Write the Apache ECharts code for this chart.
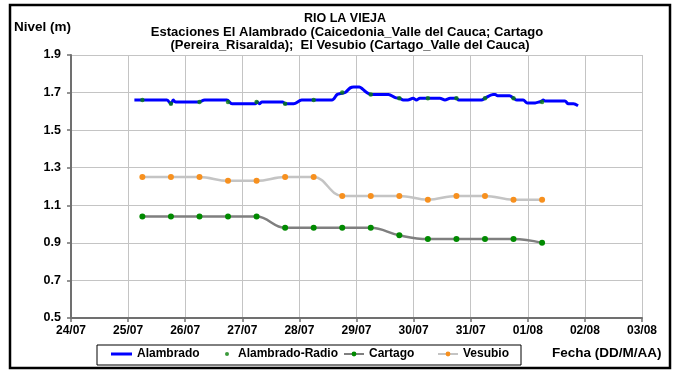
<!DOCTYPE html>
<html>
<head>
<meta charset="utf-8">
<script src="https://cdn.jsdelivr.net/npm/echarts@6/dist/echarts.min.js"></script>
<style>
  html, body { margin: 0; padding: 0; background: #fff; }
  #chart { width: 677px; height: 372px; }
</style>
</head>
<body>
<div id="chart"></div>
<script>
// Day labels on the horizontal axis (day 0 = 24/07)
const dayLabels = ['24/07', '25/07', '26/07', '27/07', '28/07', '29/07', '30/07', '31/07', '01/08', '02/08', '03/08'];

// Manual readings, taken at 06:00 and 18:00 (days after 24/07 00:00)
const readingDays = [1.25, 1.75, 2.25, 2.75, 3.25, 3.75, 4.25, 4.75, 5.25, 5.75, 6.25, 6.75, 7.25, 7.75, 8.25];
const vesubio = [1.25, 1.25, 1.25, 1.23, 1.23, 1.25, 1.25, 1.15, 1.15, 1.15, 1.13, 1.15, 1.15, 1.13, 1.13];
const cartago = [1.04, 1.04, 1.04, 1.04, 1.04, 0.98, 0.98, 0.98, 0.98, 0.94, 0.92, 0.92, 0.92, 0.92, 0.90];
const alambradoRadio = [1.66, 1.64, 1.65, 1.65, 1.65, 1.64, 1.66, 1.70, 1.69, 1.67, 1.67, 1.67, 1.67, 1.67, 1.65];

// Automatic station El Alambrado (continuous record)
const alambradoDays = [1.11, 1.68, 1.75, 1.79, 1.83, 2.23, 2.34, 2.73, 2.82, 3.23, 3.26, 3.30, 3.34, 3.71, 3.75, 3.90,
  4.04, 4.57, 4.66, 4.72, 4.80, 4.89, 4.95, 5.05, 5.10, 5.18, 5.25, 5.56, 5.68, 5.75, 5.82, 5.90, 5.99,
  6.05, 6.11, 6.46, 6.55, 6.64, 6.75, 6.79, 7.19, 7.25, 7.39, 7.43, 7.47, 7.68, 7.75, 7.81, 7.92, 7.99,
  8.13, 8.20, 8.24, 8.27, 8.30, 8.65, 8.71, 8.80, 8.88];
const alambrado = [1.66, 1.66, 1.64, 1.66, 1.65, 1.65, 1.66, 1.66, 1.64, 1.64, 1.65, 1.64, 1.65, 1.65, 1.64, 1.64,
  1.66, 1.66, 1.69, 1.695, 1.70, 1.725, 1.73, 1.73, 1.72, 1.70, 1.69, 1.69, 1.673, 1.67, 1.66, 1.66, 1.67,
  1.66, 1.67, 1.67, 1.66, 1.67, 1.67, 1.66, 1.66, 1.67, 1.69, 1.69, 1.683, 1.683, 1.67, 1.66, 1.66, 1.645,
  1.645, 1.65, 1.655, 1.66, 1.655, 1.655, 1.64, 1.64, 1.63];

const zip = (xs, ys) => xs.map((x, i) => [x, ys[i]]);

const FONT = '"Liberation Sans", Arial, sans-serif';
const legendText = { color: '#000', fontWeight: 'bold', fontSize: 12, fontFamily: FONT };
const legendBase = { top: 348, padding: 0, itemGap: 0, textStyle: legendText };

const chart = echarts.init(document.getElementById('chart'), null, { renderer: 'canvas' });

chart.setOption({
  backgroundColor: '#fff',
  animation: false,
  grid: { left: 71, top: 55, right: 35, bottom: 54, containLabel: false },
  xAxis: {
    type: 'value', min: 0, max: 10, interval: 1,
    axisLine: { show: true, lineStyle: { color: '#707070', width: 2 } },
    axisTick: { show: true, length: 4, lineStyle: { color: '#707070', width: 1.5 } },
    axisLabel: {
      color: '#000', fontWeight: 'bold', fontSize: 12, fontFamily: FONT, margin: 7,
      formatter: v => dayLabels[Math.round(v)]
    },
    splitLine: { show: true, lineStyle: { color: '#c4c4c4', width: 1 } }
  },
  yAxis: {
    type: 'value', min: 0.5, max: 1.9, interval: 0.2,
    axisLine: { show: true, lineStyle: { color: '#707070', width: 2 } },
    axisTick: { show: true, length: 4, lineStyle: { color: '#707070', width: 1.5 } },
    axisLabel: {
      color: '#000', fontWeight: 'bold', fontSize: 12.5, fontFamily: FONT, margin: 10,
      formatter: v => v.toFixed(1)
    },
    splitLine: { show: true, lineStyle: { color: '#c4c4c4', width: 1 } }
  },
  legend: [
    Object.assign({}, legendBase, { left: 111, itemWidth: 21, itemHeight: 3,
      data: [{ name: 'Alambrado', icon: 'rect' }] }),
    Object.assign({}, legendBase, { left: 225, itemWidth: 4, itemHeight: 4,
      textStyle: Object.assign({}, legendText, { padding: [0, 0, 0, 4] }),
      data: [{ name: 'Alambrado-Radio', icon: 'circle' }] }),
    Object.assign({}, legendBase, { left: 343, itemWidth: 20, itemHeight: 6, data: ['Cartago'] }),
    Object.assign({}, legendBase, { left: 437, itemWidth: 20, itemHeight: 6, data: ['Vesubio'] })
  ],
  series: [
    {
      name: 'Vesubio', type: 'line', data: zip(readingDays, vesubio), smooth: 0.4,
      symbol: 'circle', symbolSize: 6,
      lineStyle: { color: '#c4c4c4', width: 2.5 },
      itemStyle: { color: '#f7901e' }, z: 2
    },
    {
      name: 'Cartago', type: 'line', data: zip(readingDays, cartago), smooth: 0.4,
      symbol: 'circle', symbolSize: 6,
      lineStyle: { color: '#7f7f7f', width: 2.5 },
      itemStyle: { color: '#008a00' }, z: 2
    },
    {
      name: 'Alambrado', type: 'line', data: zip(alambradoDays, alambrado), smooth: 0.3,
      symbol: 'none',
      lineStyle: { color: '#0000ff', width: 3 },
      itemStyle: { color: '#0000ff' }, z: 3
    },
    {
      name: 'Alambrado-Radio', type: 'scatter', data: zip(readingDays, alambradoRadio),
      symbol: 'circle', symbolSize: 4.5,
      itemStyle: { color: '#0a800a' }, z: 4
    }
  ],
  graphic: [
    { type: 'rect', shape: { x: 10, y: 5, width: 660, height: 363 }, style: { fill: 'none', stroke: '#000', lineWidth: 2.5 }, z: 10 },
    { type: 'rect', shape: { x: 97, y: 345, width: 424, height: 20 }, style: { fill: 'none', stroke: '#000', lineWidth: 1 }, z: 10 },
    { type: 'text', x: 345, y: 12, style: { text: 'RIO LA VIEJA', align: 'center', font: 'bold 12.5px ' + FONT, fill: '#000' } },
    { type: 'text', x: 347, y: 25.5, style: { text: 'Estaciones El Alambrado (Caicedonia_Valle del Cauca; Cartago', align: 'center', font: 'bold 13px ' + FONT, fill: '#000' } },
    { type: 'text', x: 350, y: 39, style: { text: '(Pereira_Risaralda);  El Vesubio (Cartago_Valle del Cauca)', align: 'center', font: 'bold 13px ' + FONT, fill: '#000' } },
    { type: 'text', x: 14, y: 20, style: { text: 'Nivel (m)', font: 'bold 13.5px ' + FONT, fill: '#000' } },
    { type: 'text', x: 552, y: 346, style: { text: 'Fecha (DD/M/AA)', font: 'bold 13.5px ' + FONT, fill: '#000' } }
  ]
});
</script>
</body>
</html>
